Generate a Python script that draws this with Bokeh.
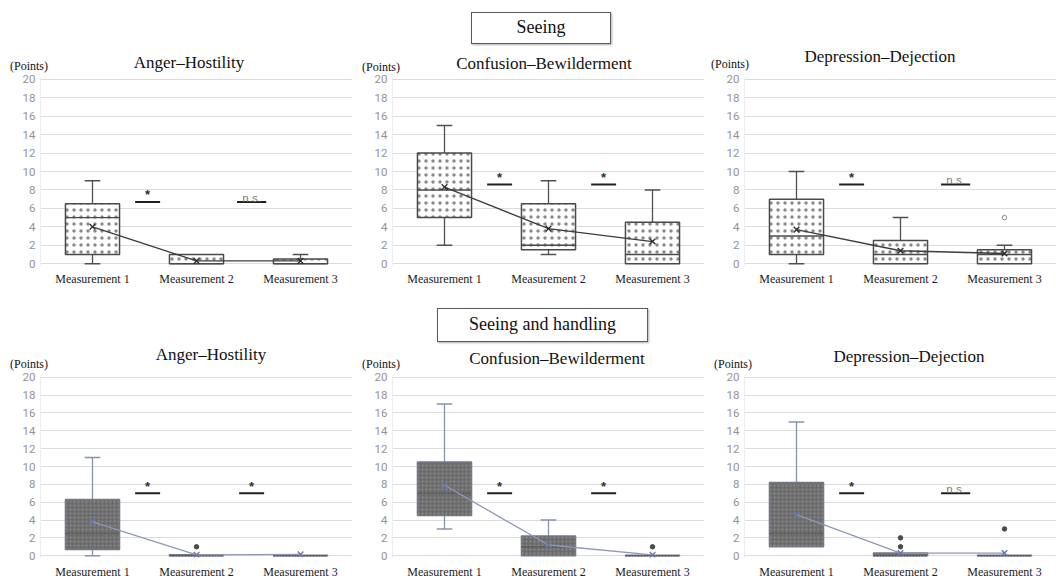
from bokeh.plotting import figure
from bokeh.models import Range1d, Div, FixedTicker
from bokeh.layouts import column, row
from bokeh.embed import file_html
from bokeh.resources import INLINE

# ---------------- data ----------------
categories = ["Measurement 1", "Measurement 2", "Measurement 3"]
scales = ["Anger–Hostility", "Confusion–Bewilderment", "Depression–Dejection"]
conditions = ["Seeing", "Seeing and handling"]
y_ticks = [0, 2, 4, 6, 8, 10, 12, 14, 16, 18, 20]
y_unit = "(Points)"

# Seeing — Anger–Hostility
see_ah_low = [0, 0, 0]
see_ah_q1 = [1, 0, 0]
see_ah_med = [5, 0, 0]
see_ah_q3 = [6.5, 1, 0.5]
see_ah_high = [9, 1, 1]
see_ah_mean = [4.0, 0.3, 0.3]
see_ah_out_x = []
see_ah_out_y = []
see_ah_sig = ["*", "n.s."]
see_ah_sig_y = [6.7, 6.7]

# Seeing — Confusion–Bewilderment
see_cb_low = [2, 1, 0]
see_cb_q1 = [5, 1.5, 0]
see_cb_med = [8, 2, 1]
see_cb_q3 = [12, 6.5, 4.5]
see_cb_high = [15, 9, 8]
see_cb_mean = [8.3, 3.8, 2.4]
see_cb_out_x = []
see_cb_out_y = []
see_cb_sig = ["*", "*"]
see_cb_sig_y = [8.6, 8.6]

# Seeing — Depression–Dejection
see_dd_low = [0, 0, 0]
see_dd_q1 = [1, 0, 0]
see_dd_med = [3, 1, 1]
see_dd_q3 = [7, 2.5, 1.5]
see_dd_high = [10, 5, 2]
see_dd_mean = [3.7, 1.4, 1.1]
see_dd_out_x = [3]
see_dd_out_y = [5]
see_dd_sig = ["*", "n.s."]
see_dd_sig_y = [8.6, 8.6]

# Seeing and handling — Anger–Hostility
sh_ah_low = [0, 0, 0]
sh_ah_q1 = [0.7, 0, 0]
sh_ah_med = [2.5, 0, 0]
sh_ah_q3 = [6.3, 0.1, 0.05]
sh_ah_high = [11, 0.1, 0.05]
sh_ah_mean = [3.8, 0.1, 0.15]
sh_ah_out_x = [2]
sh_ah_out_y = [1]
sh_ah_sig = ["*", "*"]
sh_ah_sig_y = [7.0, 7.0]

# Seeing and handling — Confusion–Bewilderment
sh_cb_low = [3, 0, 0]
sh_cb_q1 = [4.5, 0, 0]
sh_cb_med = [7, 1, 0]
sh_cb_q3 = [10.5, 2.2, 0.05]
sh_cb_high = [17, 4, 0.05]
sh_cb_mean = [7.9, 1.2, 0.1]
sh_cb_out_x = [3]
sh_cb_out_y = [1]
sh_cb_sig = ["*", "*"]
sh_cb_sig_y = [7.0, 7.0]

# Seeing and handling — Depression–Dejection
sh_dd_low = [1, 0, 0]
sh_dd_q1 = [1, 0, 0]
sh_dd_med = [2.5, 0, 0]
sh_dd_q3 = [8.2, 0.3, 0.05]
sh_dd_high = [15, 0.3, 0.05]
sh_dd_mean = [4.6, 0.3, 0.3]
sh_dd_out_x = [2, 2, 3]
sh_dd_out_y = [1, 2, 3]
sh_dd_sig = ["*", "n.s."]
sh_dd_sig_y = [7.0, 7.0]

# ---------------- styles ----------------
SERIF = "Liberation Serif"
SANS = "Roboto"

top_style = dict(box_fill="white", box_line="#4a4a4a", hatch="#8a8a8a", hatch_scale=7,
                 hatch_weight=0.4, whisker="#505050",
                 median="#4a4a4a", median_dash="solid", mean_line="#3c3c3c",
                 mean_marker="#2e2e2e", out_fill="white", out_line="#8a8a8a")
bot_style = dict(box_fill="#6c6c6c", box_line="#737889", hatch="#8c8c8c", hatch_scale=4,
                 hatch_weight=0.6, whisker="#8991b0",
                 median="#525252", median_dash="2 1", mean_line="#8e98ba",
                 mean_marker="#6b78aa", out_fill="#4a4a4a", out_line="#4a4a4a")

BOX_W = 0.52
CAP_W = 0.15
XS = [1, 2, 3]


def make_panel(low, q1, med, q3, high, mean, out_x, out_y, sig, sig_y,
               style, width, height, b_top, b_bottom, x_standoff):
    p = figure(width=width, height=height, x_range=Range1d(0.5, 3.5),
               y_range=Range1d(-0.2, 20.2), output_backend="svg",
               toolbar_location=None, min_border=0,
               min_border_left=40, min_border_right=0,
               min_border_top=b_top, min_border_bottom=b_bottom)
    p.outline_line_color = None
    p.background_fill_color = "white"
    p.border_fill_color = "white"
    p.xgrid.grid_line_color = None
    p.ygrid.grid_line_color = "#dcdcdc"
    p.ygrid.grid_line_width = 1

    p.yaxis.ticker = FixedTicker(ticks=y_ticks)
    p.yaxis.major_tick_line_color = None
    p.yaxis.minor_tick_line_color = None
    p.yaxis.major_tick_out = 0
    p.yaxis.minor_tick_out = 0
    p.yaxis.axis_line_color = "#ececec"
    p.yaxis.major_label_text_font = SANS
    p.yaxis.major_label_text_font_size = "11.5px"
    p.yaxis.major_label_text_color = "#939393"
    p.yaxis.major_label_standoff = 5

    p.xaxis.ticker = FixedTicker(ticks=XS)
    p.xaxis.major_label_overrides = {i + 1: c for i, c in enumerate(categories)}
    p.xaxis.major_tick_line_color = None
    p.xaxis.minor_tick_line_color = None
    p.xaxis.major_tick_out = 0
    p.xaxis.minor_tick_out = 0
    p.xaxis.axis_line_color = None
    p.xaxis.major_label_text_font = SERIF
    p.xaxis.major_label_text_font_size = "12px"
    p.xaxis.major_label_text_color = "#1a1a1a"
    p.xaxis.major_label_standoff = x_standoff

    # whiskers (only where they extend beyond the box)
    wx0, wy0, wx1, wy1 = [], [], [], []
    cx0, cx1, cy = [], [], []
    for x, a, b, c, d in zip(XS, low, q1, q3, high):
        if d > c:
            wx0.append(x); wy0.append(c); wx1.append(x); wy1.append(d)
            cx0.append(x - CAP_W / 2); cx1.append(x + CAP_W / 2); cy.append(d)
        if a < b:
            wx0.append(x); wy0.append(b); wx1.append(x); wy1.append(a)
            cx0.append(x - CAP_W / 2); cx1.append(x + CAP_W / 2); cy.append(a)
    p.segment(x0=wx0, y0=wy0, x1=wx1, y1=wy1, line_color=style["whisker"], line_width=1.3)
    p.segment(x0=cx0, y0=cy, x1=cx1, y1=cy, line_color=style["whisker"], line_width=1.5)

    # boxes
    p.vbar(x=XS, width=BOX_W, bottom=q1, top=q3, fill_color=style["box_fill"],
           line_color=style["box_line"], line_width=1.5,
           hatch_pattern="dot", hatch_color=style["hatch"],
           hatch_scale=style["hatch_scale"], hatch_weight=style["hatch_weight"])

    # medians
    p.segment(x0=[x - BOX_W / 2 for x in XS], x1=[x + BOX_W / 2 for x in XS],
              y0=med, y1=med, line_color=style["median"], line_width=1.4,
              line_dash=style["median_dash"])

    # mean line + markers
    p.line(x=XS, y=mean, line_color=style["mean_line"], line_width=1.3)
    p.scatter(x=XS, y=mean, marker="x", size=8, line_color=style["mean_marker"],
              line_width=1.4)

    # outliers
    if out_x:
        p.scatter(x=out_x, y=out_y, marker="circle", size=4.5,
                  fill_color=style["out_fill"], line_color=style["out_line"], line_width=1)

    # significance marks
    centers = [1.53, 2.53]
    sx0, sx1 = [], []
    for c, s in zip(centers, sig):
        hw = 0.12 if s == "*" else 0.14
        sx0.append(c - hw); sx1.append(c + hw)
    p.segment(x0=sx0, x1=sx1, y0=sig_y, y1=sig_y, line_color="#202020", line_width=2)
    star_x = [c for c, s in zip(centers, sig) if s == "*"]
    star_y = [y for y, s in zip(sig_y, sig) if s == "*"]
    ns_x = [c for c, s in zip(centers, sig) if s != "*"]
    ns_y = [y for y, s in zip(sig_y, sig) if s != "*"]
    ns_t = [s for s in sig if s != "*"]
    if star_x:
        p.text(x=star_x, y=star_y, text=["*"] * len(star_x), text_align="center",
               text_baseline="alphabetic", y_offset=-7, text_font_size="13px",
               text_font_style="bold", text_color="#303030")
    if ns_x:
        p.text(x=ns_x, y=ns_y, text=ns_t, text_align="center",
               text_baseline="alphabetic", y_offset=-4, text_font_size="11.5px",
               text_color="#7a7a7a")
    return p


def header(height, box, titles, units):
    text, bl, bt, bw, bh = box
    parts = [f'<div style="position:relative;width:1056px;height:{height}px;overflow:visible;">']
    parts.append(
        f'<div style="position:absolute;left:{bl}px;top:{bt}px;width:{bw}px;'
        f'height:{bh}px;border:1.5px solid #5a5a5a;box-shadow:1px 1px 2px #b0b0b0;'
        f'font-family:\'{SERIF}\';font-size:18px;line-height:{bh - 3}px;'
        f'text-align:center;color:#111;box-sizing:border-box;">{text}</div>')
    for t, cx, cy in titles:
        parts.append(
            f'<div style="position:absolute;left:{cx}px;top:{cy - 11}px;height:22px;'
            f'line-height:22px;transform:translateX(-50%);white-space:nowrap;'
            f'font-family:\'{SERIF}\';font-size:17px;color:#111;">{t}</div>')
    for lx, cy in units:
        parts.append(
            f'<div style="position:absolute;left:{lx}px;top:{cy - 7}px;height:14px;'
            f'line-height:14px;white-space:nowrap;'
            f'font-family:\'{SERIF}\';font-size:12px;color:#111;">{y_unit}</div>')
    parts.append('</div>')
    return Div(text="".join(parts), width=1056, height=height, margin=0)


top_data = [
    (see_ah_low, see_ah_q1, see_ah_med, see_ah_q3, see_ah_high, see_ah_mean,
     see_ah_out_x, see_ah_out_y, see_ah_sig, see_ah_sig_y),
    (see_cb_low, see_cb_q1, see_cb_med, see_cb_q3, see_cb_high, see_cb_mean,
     see_cb_out_x, see_cb_out_y, see_cb_sig, see_cb_sig_y),
    (see_dd_low, see_dd_q1, see_dd_med, see_dd_q3, see_dd_high, see_dd_mean,
     see_dd_out_x, see_dd_out_y, see_dd_sig, see_dd_sig_y),
]
bot_data = [
    (sh_ah_low, sh_ah_q1, sh_ah_med, sh_ah_q3, sh_ah_high, sh_ah_mean,
     sh_ah_out_x, sh_ah_out_y, sh_ah_sig, sh_ah_sig_y),
    (sh_cb_low, sh_cb_q1, sh_cb_med, sh_cb_q3, sh_cb_high, sh_cb_mean,
     sh_cb_out_x, sh_cb_out_y, sh_cb_sig, sh_cb_sig_y),
    (sh_dd_low, sh_dd_q1, sh_dd_med, sh_dd_q3, sh_dd_high, sh_dd_mean,
     sh_dd_out_x, sh_dd_out_y, sh_dd_sig, sh_dd_sig_y),
]

top_panels = [make_panel(*top_data[i], top_style, 352, 222, 4, 30, 6) for i in range(3)]
bot_panels = [make_panel(*bot_data[i], bot_style, 352, 210, 4, 23, 7) for i in range(3)]

head1 = header(73, (conditions[0], 471, 12, 140, 32),
               [(scales[0], 189, 63), (scales[1], 544, 64), (scales[2], 880, 57)],
               [(10, 66), (362, 67), (711, 64)])
head2 = header(76, (conditions[1], 437, 13, 211, 34),
               [(scales[0], 211, 60), (scales[1], 557, 64), (scales[2], 909, 62)],
               [(10, 69), (362, 69), (714, 69)])

layout = column(head1, row(*top_panels, spacing=0), head2, row(*bot_panels, spacing=0),
                spacing=0)

open("out.html", "w").write(file_html(layout, INLINE))
